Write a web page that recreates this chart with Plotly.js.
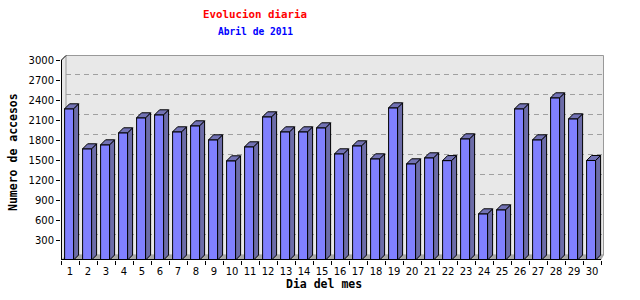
<!DOCTYPE html>
<html>
<head>
<meta charset="utf-8">
<script src="https://cdn.plot.ly/plotly-3.0.1.min.js"></script>
<style>html,body{margin:0;padding:0;background:#fff;}#chart{width:640px;height:300px;}</style>
</head>
<body>
<div id="chart"></div>
<script>
// ---- data ----
const days = [1,2,3,4,5,6,7,8,9,10,11,12,13,14,15,16,17,18,19,20,21,22,23,24,25,26,27,28,29,30];
const dayLabels = ["1","2","3","4","5","6","7","8","9","10","11","12","13","14","15","16","17","18","19","20","21","22","23","24","25","26","27","28","29","30"];
const accesos = [2268,1668,1728,1908,2133,2178,1923,2013,1803,1488,1698,2148,1923,1923,1983,1593,1713,1518,2283,1443,1533,1491,1818,693,753,2268,1803,2433,2118,1493];
const yTicks = [300,600,900,1200,1500,1800,2100,2400,2700,3000];
const titleText = "Evolucion diaria";
const subtitleText = "Abril de 2011";
const xTitle = "Dia del mes";
const yTitle = "Numero de accesos";

// ---- geometry helpers (pixel -> axis units for decorations) ----
const L = 61, T = 55, B = 260, R = 604;
const slotPx = 18, unitsPerPx = 15;
const X = px => 0.5 + (px - L) / slotPx;
const Y = py => (B - py) * unitsPerPx;
const dx = 5 / slotPx, dy = 5 * unitsPerPx;   // 3D depth
const faceLeft = -0.3, faceW = 0.5;
const gridShift = 5.5 * unitsPerPx;

// side & top faces built from the data
const sideX = [], sideY = [], topX = [], topY = [];
days.forEach((d, i) => {
  const v = accesos[i];
  const xl = d + faceLeft, xr = xl + faceW;
  sideX.push(xr, xr + dx, xr + dx, xr, xr, null);
  sideY.push(0, dy, v + dy, v, 0, null);
  topX.push(xl, xr, xr + dx, xl + dx, xl, null);
  topY.push(v, v, v + dy, v + dy, v, null);
});

const boundaries = days.map(d => d - 0.5).concat([days[days.length-1] + 0.5]);

const traces = [
  { type: 'bar', x: days, y: accesos, base: 0, offset: faceLeft, width: faceW,
    marker: { color: '#8080ff', line: { color: '#000', width: 1 } }, hoverinfo: 'skip' },
  { type: 'scatter', mode: 'lines', x: sideX, y: sideY, fill: 'toself', fillcolor: '#6c6ca8',
    line: { color: '#000', width: 1 }, hoverinfo: 'skip', connectgaps: false },
  { type: 'scatter', mode: 'lines', x: topX, y: topY, fill: 'toself', fillcolor: '#7272b4',
    line: { color: '#000', width: 1 }, hoverinfo: 'skip', connectgaps: false },
  { type: 'scatter', mode: 'none', x: boundaries, y: boundaries.map(() => null), xaxis: 'x2', hoverinfo: 'skip' }
];

const xr = [X(L), X(R)];
const shapes = [];
// side wall
shapes.push({ type: 'path', layer: 'below', xref: 'x', yref: 'y',
  path: `M ${X(61)} ${Y(260)} L ${X(61)} ${Y(60)} L ${X(66)} ${Y(55)} L ${X(66)} ${Y(255)} Z`,
  fillcolor: '#e8e8e8', line: { width: 0 } });
// back wall
shapes.push({ type: 'rect', layer: 'below', xref: 'x', yref: 'y',
  x0: X(66), x1: X(603.5), y0: Y(255), y1: Y(55.5),
  fillcolor: '#e8e8e8', line: { color: '#999', width: 1 } });
// floor
shapes.push({ type: 'path', layer: 'below', xref: 'x', yref: 'y',
  path: `M ${X(61)} ${Y(260)} L ${X(601)} ${Y(260)} L ${X(604)} ${Y(255)} L ${X(66)} ${Y(255)} Z`,
  fillcolor: '#a8a8a8', line: { width: 0 } });
// back gridlines
yTicks.slice(0, -1).forEach(t => {
  shapes.push({ type: 'line', layer: 'below', xref: 'x', yref: 'y',
    x0: X(66), x1: X(603.5), y0: t + gridShift, y1: t + gridShift,
    line: { color: '#a0a0a0', width: 1, dash: '5px,4px' } });
});
// front axes
shapes.push({ type: 'path', layer: 'above', xref: 'x', yref: 'y',
  path: `M ${X(61.5)} ${Y(260)} L ${X(61.5)} ${Y(60)} L ${X(66)} ${Y(55.5)}`,
  line: { color: '#000', width: 1 } });
shapes.push({ type: 'line', layer: 'above', xref: 'x', yref: 'y',
  x0: X(61), x1: X(601), y0: Y(259.5), y1: Y(259.5), line: { color: '#000', width: 1 } });

const PX = px => (px - L) / (R - L);
const PY = py => (B - py) / (B - T);
const monoBold = { family: 'DejaVu Sans Mono', size: 11, weight: 'bold' };
const annotations = [
  { text: titleText, xref: 'paper', yref: 'paper', x: PX(255), y: PY(14), showarrow: false,
    font: Object.assign({}, monoBold, { color: '#ff0000', size: 10.8 }), xanchor: 'center', yanchor: 'middle' },
  { text: subtitleText, xref: 'paper', yref: 'paper', x: PX(255), y: PY(32), showarrow: false,
    font: Object.assign({}, monoBold, { color: '#0000ff', size: 9.6 }), xanchor: 'center', yanchor: 'middle' },
  { text: xTitle, xref: 'paper', yref: 'paper', x: PX(324), y: PY(284), showarrow: false,
    font: Object.assign({}, monoBold, { color: '#000', size: 11.5 }), xanchor: 'center', yanchor: 'middle' },
  { text: yTitle, xref: 'paper', yref: 'paper', x: PX(13), y: PY(152), showarrow: false, textangle: -90,
    font: Object.assign({}, monoBold, { color: '#000', size: 11.5 }), xanchor: 'center', yanchor: 'middle' }
];

const tickFont = { family: 'DejaVu Sans', size: 10, color: '#000' };
const layout = {
  width: 640, height: 300,
  margin: { l: L, r: 640 - R, t: T, b: 300 - B, pad: 0 },
  paper_bgcolor: '#fff', plot_bgcolor: '#fff',
  showlegend: false, hovermode: false,
  xaxis: { range: xr, tickmode: 'array', tickvals: days, ticktext: dayLabels,
    ticks: 'outside', ticklen: 2, tickcolor: 'rgba(0,0,0,0)', showgrid: false, zeroline: false,
    showline: false, tickfont: tickFont, fixedrange: true },
  xaxis2: { range: xr, overlaying: 'x', anchor: 'y', side: 'bottom', tickmode: 'array', tickvals: boundaries,
    ticks: 'outside', ticklen: 4, tickcolor: '#000', showticklabels: false, showgrid: false,
    zeroline: false, showline: false, fixedrange: true },
  yaxis: { range: [0, Y(T)], tickmode: 'array', tickvals: yTicks, ticktext: yTicks.map(String),
    ticks: 'outside', ticklen: 4, tickcolor: '#000', showgrid: false, zeroline: false, showline: false,
    tickfont: tickFont, fixedrange: true },
  bargap: 0,
  shapes: shapes,
  annotations: annotations
};

Plotly.newPlot('chart', traces, layout, { displayModeBar: false, staticPlot: true });
</script>
</body>
</html>
